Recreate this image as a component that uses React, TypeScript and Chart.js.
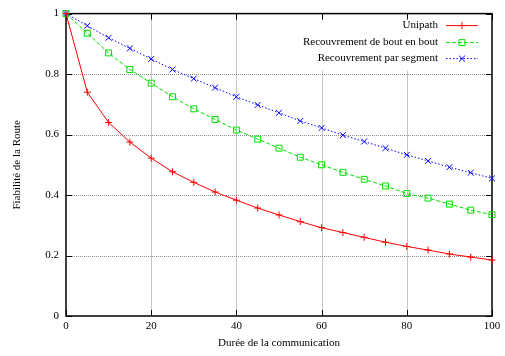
import React, { useEffect, useRef } from 'react';
import { Chart, registerables } from 'chart.js';

Chart.register(...registerables);

const durations = [0, 5, 10, 15, 20, 25, 30, 35, 40, 45, 50, 55, 60, 65, 70, 75, 80, 85, 90, 95, 100];
const unipath = [1, 0.74, 0.64, 0.575, 0.522, 0.477, 0.442, 0.41, 0.383, 0.357, 0.334, 0.312, 0.292, 0.276, 0.26, 0.244, 0.23, 0.218, 0.205, 0.195, 0.185];
const boutEnBout = [1, 0.935, 0.87, 0.815, 0.77, 0.725, 0.685, 0.65, 0.615, 0.585, 0.555, 0.525, 0.5, 0.475, 0.452, 0.43, 0.405, 0.39, 0.37, 0.35, 0.335];
const parSegment = [1, 0.96, 0.92, 0.885, 0.85, 0.815, 0.785, 0.755, 0.725, 0.698, 0.672, 0.645, 0.622, 0.598, 0.577, 0.555, 0.533, 0.513, 0.492, 0.474, 0.455];
const xTicks = [0, 20, 40, 60, 80, 100];
const yTicks = [0, 0.2, 0.4, 0.6, 0.8, 1];
const seriesLabels = ['Unipath', 'Recouvrement de bout en bout', 'Recouvrement par segment'];
const seriesColors = ['#ff0000', '#00e000', '#0000ff'];
const seriesDash = [[], [4, 2], [1.5, 2]];
const seriesMarkers = ['cross', 'rect', 'crossRot'];
const xTitle = 'Durée de la communication';
const yTitle = 'Fiabilité de la Route';

const FONT = '"Liberation Serif", "DejaVu Serif", serif';

function drawMarker(ctx: CanvasRenderingContext2D, style: string, x: number, y: number, r: number) {
  ctx.beginPath();
  if (style === 'cross') {
    ctx.moveTo(x - r, y); ctx.lineTo(x + r, y);
    ctx.moveTo(x, y - r); ctx.lineTo(x, y + r);
  } else if (style === 'crossRot') {
    const d = r * Math.SQRT1_2;
    ctx.moveTo(x - d, y - d); ctx.lineTo(x + d, y + d);
    ctx.moveTo(x - d, y + d); ctx.lineTo(x + d, y - d);
  } else {
    const s = r * Math.SQRT1_2;
    ctx.rect(x - s, y - s, 2 * s, 2 * s);
  }
  ctx.stroke();
}

const framePlugin = {
  id: 'gnuframe',
  beforeDatasetsDraw(chart: any) {
    const { ctx, chartArea } = chart;
    const { left, right, top, bottom } = chartArea;
    ctx.save();
    // dotted grid
    ctx.strokeStyle = '#8c8c8c';
    ctx.lineWidth = 1;
    ctx.setLineDash([1, 1]);
    ctx.beginPath();
    xTicks.slice(1, -1).forEach((v) => {
      const px = Math.round(chart.scales.x.getPixelForValue(v)) + 0.5;
      ctx.moveTo(px, top); ctx.lineTo(px, bottom);
    });
    yTicks.slice(1, -1).forEach((v) => {
      const py = Math.round(chart.scales.y.getPixelForValue(v)) + 0.5;
      ctx.moveTo(left, py); ctx.lineTo(right, py);
    });
    ctx.stroke();
    ctx.setLineDash([]);
    // legend background
    ctx.fillStyle = '#ffffff';
    ctx.fillRect(292, top + 1, right - 1 - 292, 56);
    // legend entries
    ctx.font = '11px ' + FONT;
    ctx.textAlign = 'right';
    ctx.textBaseline = 'middle';
    const rows = [top + 12, top + 29, top + 45];
    seriesLabels.forEach((lab, i) => {
      const yy = rows[i];
      ctx.fillStyle = '#000';
      ctx.fillText(lab, right - 54, yy);
      ctx.strokeStyle = seriesColors[i];
      ctx.lineWidth = 1;
      ctx.setLineDash(seriesDash[i]);
      ctx.beginPath();
      ctx.moveTo(right - 46, yy);
      ctx.lineTo(right - 14, yy);
      ctx.stroke();
      ctx.setLineDash([]);
      const r = seriesMarkers[i] === 'cross' ? 3.5 : 4.2;
      drawMarker(ctx, seriesMarkers[i], right - 30, yy, r);
    });
    // frame
    ctx.strokeStyle = '#000';
    ctx.lineWidth = 1.5;
    ctx.strokeRect(left, top, right - left, bottom - top);
    // inward ticks (mirrored)
    ctx.lineWidth = 1;
    ctx.beginPath();
    xTicks.forEach((v) => {
      const px = Math.round(chart.scales.x.getPixelForValue(v)) + 0.5;
      ctx.moveTo(px, bottom); ctx.lineTo(px, bottom - 6);
      ctx.moveTo(px, top); ctx.lineTo(px, top + 6);
    });
    yTicks.forEach((v) => {
      const py = Math.round(chart.scales.y.getPixelForValue(v)) + 0.5;
      ctx.moveTo(left, py); ctx.lineTo(left + 6, py);
      ctx.moveTo(right, py); ctx.lineTo(right - 6, py);
    });
    ctx.stroke();
    ctx.restore();
  },
};

export default function App() {
  const canvasRef = useRef<HTMLCanvasElement | null>(null);

  useEffect(() => {
    const canvas = canvasRef.current;
    if (!canvas) return;
    const series = [unipath, boutEnBout, parSegment];
    const chart = new Chart(canvas, {
      type: 'line',
      data: {
        datasets: series.map((vals, i) => ({
          label: seriesLabels[i],
          data: durations.map((x, j) => ({ x, y: vals[j] })),
          borderColor: seriesColors[i],
          backgroundColor: 'rgba(0,0,0,0)',
          borderWidth: 1,
          borderDash: seriesDash[i],
          pointStyle: seriesMarkers[i] as any,
          pointRadius: seriesMarkers[i] === 'cross' ? 3.5 : 4.2,
          pointBorderWidth: 1,
          pointBorderColor: seriesColors[i],
          pointBackgroundColor: 'rgba(0,0,0,0)',
          pointHoverRadius: 0,
          tension: 0,
          fill: false,
          clip: false as any,
        })),
      },
      options: {
        responsive: false,
        animation: false,
        events: [],
        layout: { padding: { top: 8, right: 13, left: 0, bottom: 0 } },
        plugins: {
          legend: { display: false },
          tooltip: { enabled: false },
        },
        scales: {
          x: {
            type: 'linear',
            min: 0,
            max: 100,
            afterBuildTicks: (scale: any) => {
              scale.ticks = xTicks.map((v) => ({ value: v }));
            },
            afterFit: (scale: any) => {
              scale.height = 40;
            },
            ticks: {
              color: '#000',
              font: { family: FONT, size: 11 },
              padding: 4,
              maxRotation: 0,
              callback: (v: any) => String(v),
            },
            grid: { display: false, drawTicks: false },
            border: { display: false },
            title: {
              display: true,
              text: xTitle,
              color: '#000',
              font: { family: FONT, size: 11 },
              padding: { top: 0, bottom: 6 },
            },
          },
          y: {
            type: 'linear',
            min: 0,
            max: 1,
            afterBuildTicks: (scale: any) => {
              scale.ticks = yTicks.map((v) => ({ value: v }));
            },
            afterFit: (scale: any) => {
              scale.width = 66;
            },
            ticks: {
              color: '#000',
              font: { family: FONT, size: 11 },
              padding: 7,
              callback: (v: any) => String(Number(Number(v).toFixed(1))),
            },
            grid: { display: false, drawTicks: false },
            border: { display: false },
            title: {
              display: true,
              text: yTitle,
              color: '#000',
              font: { family: FONT, size: 11 },
              padding: { top: 11, bottom: 0 },
            },
          },
        },
      },
      plugins: [framePlugin],
    });
    return () => chart.destroy();
  }, []);

  return (
    <div style={{ position: 'fixed', left: 0, top: 0, width: 505, height: 356, background: '#fff' }}>
      <canvas ref={canvasRef} width={505} height={356} />
    </div>
  );
}
